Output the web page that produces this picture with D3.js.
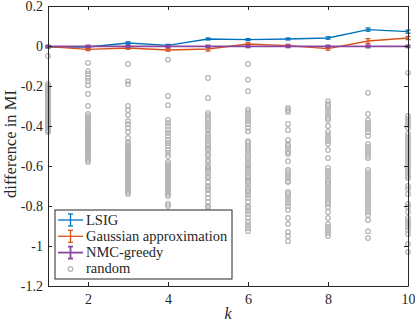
<!DOCTYPE html>
<html>
<head>
<meta charset="utf-8">
<script src="https://cdn.jsdelivr.net/npm/d3@7"></script>
<style>
  body { margin: 0; background: #fff; }
  svg text { font-family: "Liberation Serif", serif; fill: #262626; }
</style>
</head>
<body>
<div id="chart"></div>
<script>
// k values
const ks = [1, 2, 3, 4, 5, 6, 7, 8, 9, 10];

// mean difference in MI and error bar half-widths
const lsig = [-0.005, -0.005, 0.015, 0.003, 0.035, 0.032, 0.035, 0.04, 0.082, 0.072];
const lsigErr = [0.005, 0.004, 0.006, 0.005, 0.005, 0.005, 0.005, 0.006, 0.008, 0.008];
const gauss = [-0.003, -0.017, -0.01, -0.02, -0.015, 0.01, 0.002, -0.013, 0.025, 0.04];
const gaussErr = [0.004, 0.006, 0.006, 0.006, 0.01, 0.006, 0.006, 0.008, 0.012, 0.008];
const nmc = [-0.002, -0.002, -0.002, -0.002, -0.002, -0.002, -0.002, -0.002, -0.002, -0.002];
const nmcErr = [0.005, 0.005, 0.005, 0.005, 0.005, 0.005, 0.005, 0.005, 0.006, 0.005];

// random designs, one list per k
const rand1 = [-0.05, -0.19, -0.2, -0.205, -0.21, -0.22, -0.225, -0.23, -0.24, -0.245, -0.25, -0.26, -0.265, -0.27, -0.28, -0.285, -0.29, -0.3, -0.305, -0.31, -0.32, -0.33, -0.335, -0.34, -0.35, -0.36, -0.365, -0.37, -0.38, -0.39, -0.395, -0.4, -0.41, -0.42, -0.425, -0.43];
const rand2 = [-0.084, -0.126, -0.14, -0.16, -0.175, -0.196, -0.24, -0.30, -0.34, -0.35, -0.36, -0.37, -0.38, -0.39, -0.4, -0.41, -0.415, -0.42, -0.43, -0.44, -0.445, -0.45, -0.46, -0.47, -0.475, -0.48, -0.49, -0.5, -0.51, -0.515, -0.52, -0.53, -0.54, -0.55, -0.56, -0.57, -0.58];
const rand3 = [-0.09, -0.176, -0.19, -0.30, -0.32, -0.345, -0.376, -0.39, -0.41, -0.43, -0.46, -0.48, -0.49, -0.5, -0.51, -0.52, -0.53, -0.54, -0.55, -0.555, -0.56, -0.57, -0.58, -0.59, -0.6, -0.61, -0.62, -0.63, -0.64, -0.65, -0.66, -0.67, -0.68, -0.69, -0.7, -0.71, -0.72, -0.73, -0.74];
const rand4 = [-0.068, -0.25, -0.296, -0.37, -0.385, -0.4, -0.42, -0.435, -0.45, -0.47, -0.485, -0.5, -0.52, -0.535, -0.55, -0.58, -0.59, -0.6, -0.61, -0.62, -0.63, -0.64, -0.65, -0.66, -0.67, -0.68, -0.69, -0.7, -0.71, -0.72, -0.73, -0.74, -0.75, -0.79, -0.8];
const rand5 = [-0.16, -0.26, -0.334, -0.345, -0.36, -0.37, -0.385, -0.4, -0.41, -0.42, -0.44, -0.45, -0.46, -0.475, -0.49, -0.5, -0.51, -0.52, -0.54, -0.55, -0.57, -0.58, -0.6, -0.61, -0.62, -0.63, -0.65, -0.66, -0.68, -0.7, -0.71, -0.72, -0.74, -0.76, -0.78, -0.8, -0.81, -0.84, -0.87, -0.9];
const rand6 = [-0.09, -0.168, -0.226, -0.318, -0.33, -0.345, -0.36, -0.375, -0.39, -0.41, -0.426, -0.476, -0.485, -0.5, -0.51, -0.52, -0.535, -0.55, -0.56, -0.575, -0.59, -0.6, -0.61, -0.62, -0.635, -0.65, -0.66, -0.67, -0.68, -0.695, -0.71, -0.72, -0.73, -0.745, -0.76, -0.78, -0.8, -0.81, -0.825, -0.84, -0.86, -0.88, -0.895, -0.91, -0.926];
const rand7 = [-0.31, -0.32, -0.33, -0.39, -0.42, -0.47, -0.49, -0.5, -0.515, -0.53, -0.54, -0.576, -0.62, -0.63, -0.645, -0.66, -0.675, -0.68, -0.73, -0.74, -0.755, -0.77, -0.785, -0.8, -0.82, -0.86, -0.89, -0.93, -0.95, -0.976];
const rand8 = [-0.276, -0.29, -0.3, -0.315, -0.33, -0.345, -0.36, -0.37, -0.40, -0.43, -0.445, -0.46, -0.475, -0.49, -0.52, -0.56, -0.61, -0.625, -0.64, -0.655, -0.67, -0.68, -0.69, -0.705, -0.72, -0.735, -0.75, -0.765, -0.78, -0.79, -0.805, -0.83, -0.86, -0.89, -0.905, -0.92, -0.935, -0.95];
const rand9 = [-0.234, -0.34, -0.37, -0.385, -0.4, -0.415, -0.43, -0.45, -0.49, -0.505, -0.52, -0.535, -0.55, -0.56, -0.62, -0.635, -0.65, -0.665, -0.68, -0.695, -0.71, -0.725, -0.74, -0.755, -0.77, -0.785, -0.8, -0.815, -0.83, -0.845, -0.87, -0.926, -0.96];
const rand10 = [-0.134, -0.35, -0.365, -0.38, -0.395, -0.41, -0.44, -0.455, -0.47, -0.485, -0.5, -0.515, -0.53, -0.545, -0.56, -0.575, -0.59, -0.605, -0.62, -0.635, -0.65, -0.66, -0.70, -0.715, -0.74, -0.79, -0.805, -0.83, -0.86, -0.875, -0.89, -0.905, -0.92, -0.94, -0.99, -1.03];
const randAll = [rand1, rand2, rand3, rand4, rand5, rand6, rand7, rand8, rand9, rand10];

const xTicks = [2, 4, 6, 8, 10];
const yTicks = [0.2, 0, -0.2, -0.4, -0.6, -0.8, -1, -1.2];
const seriesNames = ["LSIG", "Gaussian approximation", "NMC-greedy", "random"];

const svgWidth = 415;
const svgHeight = 324;
const margin = { top: 6, right: 7, bottom: 38, left: 48 };
const width = svgWidth - margin.left - margin.right;
const height = svgHeight - margin.top - margin.bottom;

const svg = d3.select("#chart")
  .append("svg")
  .attr("width", svgWidth)
  .attr("height", svgHeight);

const chartGroup = svg.append("g")
  .attr("transform", `translate(${margin.left}, ${margin.top})`);

const xLinearScale = d3.scaleLinear().domain([1, 10]).range([0, width]);
const yLinearScale = d3.scaleLinear().domain([-1.2, 0.2]).range([height, 0]);

const axisColor = "#262626";
const fmt = d => d === 0 ? "0" : String(d).replace("\u2212", "-");

// axes, MATLAB style with inward ticks
const bottomAxis = d3.axisBottom(xLinearScale).tickValues(xTicks).tickSizeInner(-4).tickSizeOuter(0).tickPadding(8).tickFormat(fmt);
const leftAxis = d3.axisLeft(yLinearScale).tickValues(yTicks).tickSizeInner(-4).tickSizeOuter(0).tickPadding(5).tickFormat(fmt);
const topAxis = d3.axisTop(xLinearScale).tickValues(xTicks).tickSizeInner(-4).tickSizeOuter(0).tickFormat("");
const rightAxis = d3.axisRight(yLinearScale).tickValues(yTicks).tickSizeInner(-4).tickSizeOuter(0).tickFormat("");

function styleAxis(g) {
  g.selectAll("path").attr("stroke", axisColor).attr("stroke-width", 1);
  g.selectAll("line").attr("stroke", axisColor).attr("stroke-width", 1);
  g.selectAll("text")
    .attr("font-family", "Liberation Serif, serif")
    .attr("font-size", 14)
    .attr("fill", axisColor);
}

// random points first (behind)
const randGroup = chartGroup.append("g");
randAll.forEach((vals, i) => {
  randGroup.selectAll(null)
    .data(vals)
    .enter()
    .append("circle")
    .attr("cx", xLinearScale(ks[i]))
    .attr("cy", d => yLinearScale(d))
    .attr("r", 2.3)
    .attr("fill", "none")
    .attr("stroke", "#b3b3b3")
    .attr("stroke-width", 1.2);
});

// error bar series
const series = [
  { vals: lsig, err: lsigErr, color: "#0072BD", w: 1.3 },
  { vals: gauss, err: gaussErr, color: "#D95319", w: 1.3 },
  { vals: nmc, err: nmcErr, color: "#8a45a0", w: 1.8 }
];

const line = d3.line()
  .x((d, i) => xLinearScale(ks[i]))
  .y(d => yLinearScale(d));

series.forEach(s => {
  const g = chartGroup.append("g");
  g.append("path")
    .datum(s.vals)
    .attr("d", line)
    .attr("fill", "none")
    .attr("stroke", s.color)
    .attr("stroke-width", s.w);
  s.vals.forEach((v, i) => {
    const x = xLinearScale(ks[i]);
    const y0 = yLinearScale(v - s.err[i]);
    const y1 = yLinearScale(v + s.err[i]);
    g.append("line").attr("x1", x).attr("x2", x).attr("y1", y0).attr("y2", y1)
      .attr("stroke", s.color).attr("stroke-width", s.w);
    [y0, y1].forEach(yy => {
      g.append("line").attr("x1", x - 2.5).attr("x2", x + 2.5).attr("y1", yy).attr("y2", yy)
        .attr("stroke", s.color).attr("stroke-width", s.w);
    });
  });
});

chartGroup.append("g").attr("transform", `translate(0, ${height})`).call(bottomAxis).call(styleAxis);
chartGroup.append("g").call(leftAxis).call(styleAxis);
chartGroup.append("g").call(topAxis).call(styleAxis);
chartGroup.append("g").attr("transform", `translate(${width}, 0)`).call(rightAxis).call(styleAxis);

// axis labels
chartGroup.append("text")
  .attr("x", width / 2)
  .attr("y", height + 33)
  .attr("text-anchor", "middle")
  .attr("font-size", 16)
  .attr("font-style", "italic")
  .text("k");

chartGroup.append("text")
  .attr("transform", "rotate(-90)")
  .attr("x", -height / 2 + 2)
  .attr("y", -32)
  .attr("text-anchor", "middle")
  .attr("font-size", 16.5)
  .text("difference in MI");

// legend
const legend = svg.append("g").attr("transform", "translate(55, 210)");
legend.append("rect")
  .attr("x", 0).attr("y", 0)
  .attr("width", 177).attr("height", 69)
  .attr("fill", "#fff")
  .attr("stroke", axisColor)
  .attr("stroke-width", 1);

seriesNames.forEach((name, i) => {
  const yy = 10 + i * 16.3;
  const item = legend.append("g").attr("transform", `translate(0, ${yy})`);
  if (i < 3) {
    const s = series[i];
    item.append("line").attr("x1", 3).attr("x2", 28).attr("y1", 0).attr("y2", 0)
      .attr("stroke", s.color).attr("stroke-width", s.w);
    item.append("line").attr("x1", 15.5).attr("x2", 15.5).attr("y1", -6).attr("y2", 6)
      .attr("stroke", s.color).attr("stroke-width", s.w);
    [-6, 6].forEach(c => {
      item.append("line").attr("x1", 13).attr("x2", 18).attr("y1", c).attr("y2", c)
        .attr("stroke", s.color).attr("stroke-width", s.w);
    });
  } else {
    item.append("circle").attr("cx", 15.5).attr("cy", 0).attr("r", 2.3)
      .attr("fill", "none").attr("stroke", "#b3b3b3").attr("stroke-width", 1.2);
  }
  item.append("text")
    .attr("x", 31)
    .attr("y", 4.5)
    .attr("font-size", 14.5)
    .text(name);
});
</script>
</body>
</html>
